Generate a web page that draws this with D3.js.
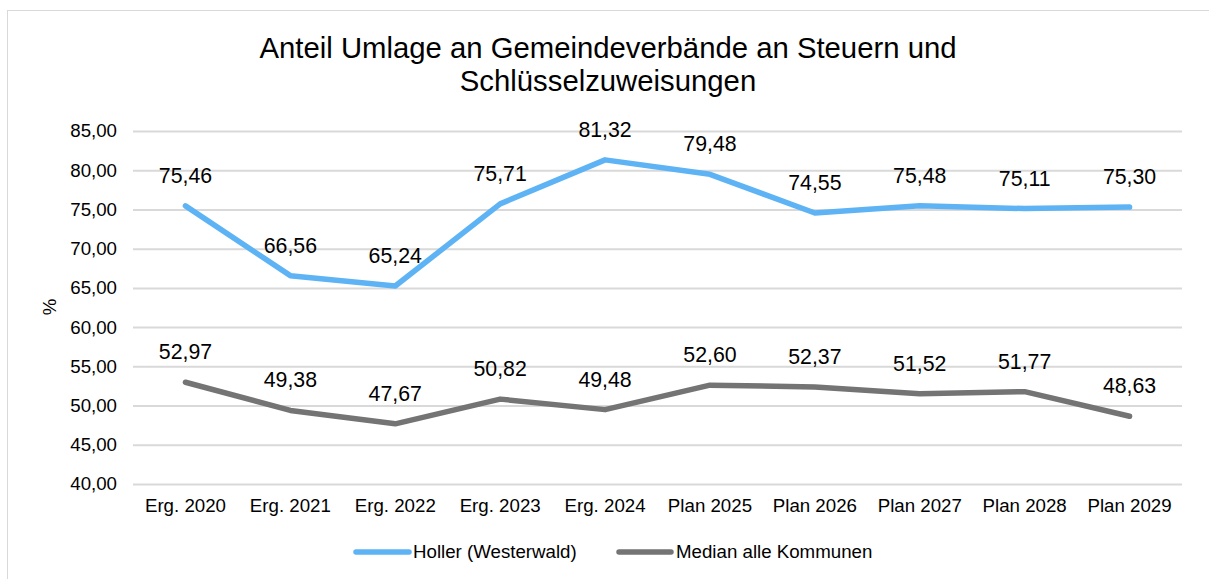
<!DOCTYPE html>
<html><head><meta charset="utf-8">
<script src="https://cdn.jsdelivr.net/npm/d3@7"></script>
<style>body{margin:0;background:#fff}svg{display:block}text{font-family:"Liberation Sans",Arial,sans-serif;fill:#000}</style>
</head><body><svg id="c" width="1209" height="579"></svg>
<script>
const categories=["Erg. 2020","Erg. 2021","Erg. 2022","Erg. 2023","Erg. 2024","Plan 2025","Plan 2026","Plan 2027","Plan 2028","Plan 2029"];
const holler=[75.46,66.56,65.24,75.71,81.32,79.48,74.55,75.48,75.11,75.30];
const median=[52.97,49.38,47.67,50.82,49.48,52.60,52.37,51.52,51.77,48.63];
const yTicks=[40,45,50,55,60,65,70,75,80,85];
const seriesNames=["Holler (Westerwald)","Median alle Kommunen"];
const colors=["#5EB3F5","#747474"];
const titleLines=["Anteil Umlage an Gemeindeverbände an Steuern und","Schlüsselzuweisungen"];

const svg=d3.select("#c");
svg.append("rect").attr("x",7.5).attr("y",10.5).attr("width",1220).attr("height",600)
  .attr("fill","none").attr("stroke","#d9d9d9");
const L=133,R=1182,T=131,B=484;
const x=d3.scaleBand().domain(categories).range([L,R]);
const y=d3.scaleLinear().domain([40,85]).range([B,T]);
const fmt=v=>v.toFixed(2).replace(".",",");
const cx=d=>x(d)+x.bandwidth()/2;
const FF="Liberation Sans, Arial, sans-serif";

// title
svg.append("text").attr("x",608).attr("y",58).attr("text-anchor","middle").style("font-size","29.3px")
  .selectAll("tspan").data(titleLines).join("tspan").attr("x",608).attr("dy",(d,i)=>i?"33":"0").text(d=>d);

// y axis
const ya=svg.append("g").attr("transform",`translate(${L},0)`)
  .call(d3.axisLeft(y).tickValues(yTicks).tickSize(-(R-L)).tickFormat(fmt).tickPadding(16));
ya.select(".domain").remove();
ya.selectAll(".tick line").attr("stroke","#d9d9d9").attr("stroke-width",2);
ya.selectAll(".tick text").style("font-size","18.7px").style("font-family",FF).attr("fill","#000");

// x axis
const xa=svg.append("g").attr("transform",`translate(0,${B})`)
  .call(d3.axisBottom(x).tickSize(0).tickPadding(15));
xa.select(".domain").remove();
xa.selectAll(".tick text").style("font-size","18.7px").style("font-family",FF).attr("fill","#000");

// y title
svg.append("text").attr("transform","translate(56,307) rotate(-90)").attr("text-anchor","middle")
  .style("font-size","18.7px").text("%");

// lines
const line=d3.line().x((d,i)=>cx(categories[i])).y(d=>y(d));
[holler,median].forEach((s,k)=>{
  svg.append("path").datum(s).attr("d",line).attr("fill","none").attr("stroke",colors[k])
    .attr("stroke-width",5.5).attr("stroke-linejoin","round").attr("stroke-linecap","round");
  svg.append("g").selectAll("text").data(s).join("text")
    .attr("x",(d,i)=>cx(categories[i])).attr("y",d=>y(d)-23)
    .attr("text-anchor","middle").style("font-size","21.3px").text(fmt);
});

// legend
const lg=[{x1:356,x2:409,tx:413},{x1:619,x2:671,tx:676}];
seriesNames.forEach((n,k)=>{
  svg.append("line").attr("x1",lg[k].x1).attr("x2",lg[k].x2).attr("y1",552).attr("y2",552)
    .attr("stroke",colors[k]).attr("stroke-width",5.5).attr("stroke-linecap","round");
  svg.append("text").attr("x",lg[k].tx).attr("y",558).style("font-size","18.7px").text(n);
});
</script></body></html>
